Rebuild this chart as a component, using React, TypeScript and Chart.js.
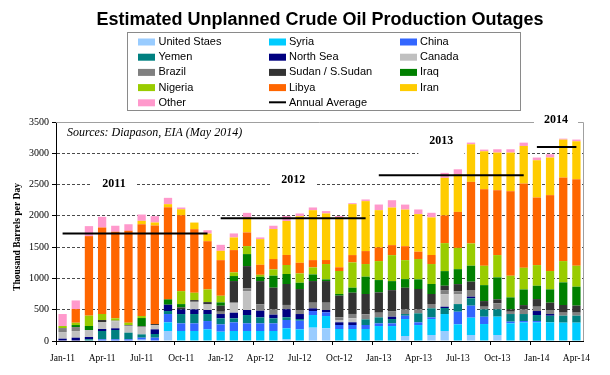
import React, { useEffect, useRef } from 'react';
import { Chart, registerables } from 'chart.js';

Chart.register(...registerables);

const MONTHS = [
  'Jan-11', 'Feb-11', 'Mar-11', 'Apr-11', 'May-11', 'Jun-11', 'Jul-11', 'Aug-11', 'Sep-11', 'Oct-11', 'Nov-11', 'Dec-11',
  'Jan-12', 'Feb-12', 'Mar-12', 'Apr-12', 'May-12', 'Jun-12', 'Jul-12', 'Aug-12', 'Sep-12', 'Oct-12', 'Nov-12', 'Dec-12',
  'Jan-13', 'Feb-13', 'Mar-13', 'Apr-13', 'May-13', 'Jun-13', 'Jul-13', 'Aug-13', 'Sep-13', 'Oct-13', 'Nov-13', 'Dec-13',
  'Jan-14', 'Feb-14', 'Mar-14', 'Apr-14',
];

const US = [0, 0, 0, 0, 0, 0, 21, 0, 160, 0, 0, 0, 0, 0, 0, 0, 0, 27, 0, 213, 202, 0, 0, 0, 0, 0, 80, 0, 96, 160, 0, 96, 0, 96, 0, 0, 0, 0, 0, 0];
const SYRIA = [0, 0, 0, 0, 0, 0, 0, 0, 138, 160, 160, 186, 149, 160, 160, 160, 160, 176, 186, 202, 197, 192, 192, 192, 239, 239, 271, 255, 255, 271, 266, 277, 271, 293, 282, 298, 298, 298, 293, 293];
const CHINA = [0, 0, 0, 27, 27, 27, 32, 53, 133, 122, 122, 133, 117, 138, 122, 122, 122, 133, 138, 64, 59, 64, 64, 64, 43, 43, 53, 43, 27, 0, 202, 192, 117, 0, 27, 21, 21, 0, 0, 0];
const YEMEN = [0, 0, 27, 133, 149, 106, 53, 59, 48, 149, 149, 112, 96, 64, 133, 96, 80, 43, 27, 0, 0, 0, 0, 90, 96, 69, 27, 144, 144, 96, 122, 117, 117, 117, 122, 112, 96, 106, 112, 112];
const NORTH_SEA = [37, 53, 37, 32, 27, 0, 0, 74, 101, 74, 74, 64, 69, 90, 80, 106, 59, 128, 80, 43, 37, 43, 43, 0, 0, 37, 0, 0, 0, 21, 0, 27, 0, 0, 0, 0, 64, 27, 0, 0];
const CANADA = [106, 106, 112, 112, 112, 106, 122, 69, 0, 0, 122, 90, 0, 160, 303, 0, 0, 0, 0, 0, 0, 37, 64, 0, 0, 0, 0, 0, 0, 197, 154, 0, 0, 0, 0, 0, 0, 0, 0, 0];
const BRAZIL = [64, 64, 0, 0, 11, 16, 0, 0, 0, 0, 0, 0, 37, 0, 43, 101, 85, 69, 64, 90, 117, 43, 69, 80, 74, 90, 74, 64, 69, 69, 53, 106, 43, 96, 37, 74, 69, 64, 48, 48];
const SUDAN = [0, 0, 0, 32, 0, 0, 11, 16, 0, 32, 27, 37, 96, 346, 356, 372, 346, 335, 335, 346, 346, 346, 340, 325, 325, 335, 346, 325, 160, 69, 112, 133, 90, 64, 37, 69, 122, 117, 122, 112];
const IRAQ = [0, 32, 64, 0, 0, 0, 128, 0, 85, 53, 0, 0, 53, 80, 192, 69, 192, 160, 101, 106, 27, 27, 80, 277, 197, 144, 138, 154, 160, 234, 239, 255, 255, 351, 192, 250, 213, 213, 362, 303];
const NIGERIA = [32, 37, 165, 96, 37, 37, 32, 0, 0, 207, 117, 202, 106, 59, 128, 32, 101, 144, 149, 112, 245, 367, 404, 202, 303, 415, 303, 325, 319, 447, 340, 356, 309, 356, 346, 346, 330, 293, 340, 335];
const LIBYA = [0, 218, 1271, 1383, 1383, 1468, 1468, 1575, 1474, 1213, 1016, 771, 569, 356, 218, 160, 165, 160, 170, 117, 64, 59, 117, 207, 218, 160, 223, 117, 144, 442, 575, 984, 1224, 1037, 1351, 1346, 1080, 1213, 1335, 1383];
const IRAN = [0, 0, 0, 0, 0, 0, 53, 48, 48, 96, 106, 122, 149, 202, 239, 410, 479, 543, 745, 798, 745, 798, 814, 798, 596, 601, 585, 601, 601, 601, 601, 601, 606, 601, 617, 601, 596, 601, 606, 606];
const OTHER = [192, 138, 160, 170, 96, 106, 101, 101, 101, 27, 0, 53, 96, 64, 74, 27, 53, 80, 43, 43, 37, 21, 16, 27, 90, 117, 80, 74, 74, 80, 80, 27, 27, 53, 53, 53, 43, 53, 16, 27];

const SERIES_NAMES = ['United Staes', 'Syria', 'China', 'Yemen', 'North Sea', 'Canada', 'Brazil', 'Sudan / S.Sudan', 'Iraq', 'Nigeria', 'Libya', 'Iran', 'Other'];
const SERIES_DATA = [US, SYRIA, CHINA, YEMEN, NORTH_SEA, CANADA, BRAZIL, SUDAN, IRAQ, NIGERIA, LIBYA, IRAN, OTHER];
const SERIES_COLORS = ['#99CCFF', '#00CCFF', '#3366FF', '#008080', '#000080', '#C0C0C0', '#808080', '#333333', '#008000', '#99CC00', '#FF6600', '#FFCC00', '#FF99CC'];

const AVG_YEARS = ['11', '12', '13', '14'];
const AVG_VALUES = [1719, 1960, 2649, 3101];

const YEAR_LABELS = ['2011', '2012', '2013', '2014'];

const TITLE = 'Estimated Unplanned Crude Oil Production Outages';
const SOURCE_NOTE = 'Sources: Diapason, EIA (May 2014)';
const Y_TITLE = 'Thousand Barrels per Day';

const SERIF = '"Liberation Serif", "Times New Roman", serif';
const SANS = '"Liberation Sans", Arial, sans-serif';

const yearOf = (i: number) => MONTHS[i].slice(-2);

// placement of the year labels, in (category index, value) units
const YEAR_LABEL_POS = [
  { x: 3.9, y: 2505, box: [44, 18], dy: 0 },
  { x: 17.5, y: 2580, box: [46, 18], dy: 0 },
  { x: 28.75, y: 3197, box: [46, 28], dy: 6 },
  { x: 37.45, y: 3527, box: [44, 17], dy: 0 },
];

const decorPlugin = {
  id: 'decor',
  beforeDraw(chart: any) {
    const { ctx, width, height } = chart;
    ctx.save();
    ctx.fillStyle = '#ffffff';
    ctx.fillRect(0, 0, width, height);
    ctx.restore();
  },
  beforeDatasetsDraw(chart: any) {
    const { ctx, chartArea: a, scales } = chart;
    ctx.save();
    ctx.strokeStyle = '#a0a0a0';
    ctx.lineWidth = 1;
    ctx.beginPath();
    ctx.moveTo(a.left, Math.round(a.top) + 0.5);
    ctx.lineTo(Math.round(a.right) + 0.5, Math.round(a.top) + 0.5);
    ctx.lineTo(Math.round(a.right) + 0.5, a.bottom);
    ctx.stroke();

    ctx.fillStyle = '#000';
    ctx.font = `italic 12px ${SERIF}`;
    ctx.textAlign = 'left';
    ctx.textBaseline = 'middle';
    ctx.fillText(SOURCE_NOTE, a.left + 11, a.top + 10.5);

    ctx.font = `bold 12px ${SERIF}`;
    ctx.textAlign = 'center';
    YEAR_LABELS.forEach((t, i) => {
      const p = YEAR_LABEL_POS[i];
      const px = scales.x.getPixelForValue(p.x);
      const py = scales.y.getPixelForValue(p.y);
      const [bw, bh] = p.box;
      ctx.fillStyle = '#fff';
      ctx.fillRect(px - bw / 2, py - bh / 2 + p.dy, bw, bh);
      ctx.fillStyle = '#000';
      ctx.fillText(t, px, py);
    });
    ctx.restore();
  },
  afterDraw(chart: any) {
    const { ctx, data } = chart;
    ctx.save();
    ctx.fillStyle = '#000';
    ctx.font = `bold 18px ${SANS}`;
    ctx.textAlign = 'center';
    ctx.textBaseline = 'middle';
    ctx.fillText(TITLE, 320, 20);

    ctx.save();
    ctx.translate(18, 237);
    ctx.rotate(-Math.PI / 2);
    ctx.font = `bold 9.5px ${SERIF}`;
    ctx.fillText(Y_TITLE, 0, 0);
    ctx.restore();

    const boxL = 127, boxR = 520, boxT = 32, boxB = 110;
    ctx.strokeStyle = '#8a8a8a';
    ctx.lineWidth = 1;
    ctx.strokeRect(boxL + 0.5, boxT + 0.5, boxR - boxL, boxB - boxT);
    const colSwatch = [138, 269, 400];
    const colText = [158.5, 289, 420];
    const rowY = [41.5, 56.7, 71.9, 87.1, 102.3];
    ctx.font = `11px ${SANS}`;
    ctx.textAlign = 'left';
    ctx.textBaseline = 'middle';
    data.datasets.forEach((ds: any, k: number) => {
      const c = k % 3;
      const r = Math.floor(k / 3);
      const y = rowY[r];
      if (ds.type === 'line') {
        ctx.strokeStyle = '#000';
        ctx.lineWidth = 2;
        ctx.beginPath();
        ctx.moveTo(colSwatch[c], y);
        ctx.lineTo(colSwatch[c] + 17, y);
        ctx.stroke();
      } else {
        ctx.fillStyle = ds.backgroundColor;
        ctx.fillRect(colSwatch[c], y - 3, 17, 7);
      }
      ctx.fillStyle = '#000';
      ctx.fillText(ds.label, colText[c], y + 0.5);
    });
    ctx.restore();
  },
};

export default function App() {
  const ref = useRef<HTMLCanvasElement>(null);

  useEffect(() => {
    if (!ref.current) return;
    const barSets = SERIES_NAMES.map((name, i) => ({
      type: 'bar' as const,
      label: name,
      data: SERIES_DATA[i],
      backgroundColor: SERIES_COLORS[i],
      borderWidth: 0,
      stack: 'outages',
      barPercentage: 0.63,
      categoryPercentage: 1,
    }));
    const avgData = MONTHS.map((m) => AVG_VALUES[AVG_YEARS.indexOf(m.slice(-2))]);
    const lineSet = {
      type: 'line' as const,
      label: 'Annual Average',
      data: avgData,
      borderColor: '#000',
      borderWidth: 2,
      pointRadius: 0,
      fill: false,
      stack: 'avg',
      order: -1,
      segment: {
        borderColor: (c: any) => (yearOf(c.p0DataIndex) !== yearOf(c.p1DataIndex) ? 'rgba(0,0,0,0)' : '#000'),
      },
    };

    const chart = new Chart(ref.current, {
      type: 'bar',
      data: { labels: MONTHS, datasets: [...barSets, lineSet] as any },
      options: {
        animation: false,
        responsive: false,
        maintainAspectRatio: false,
        layout: { padding: { top: 122, right: 27, left: 0, bottom: 0 } },
        plugins: {
          legend: { display: false },
          title: { display: false },
          tooltip: { enabled: false },
        },
        scales: {
          x: {
            stacked: true,
            offset: true,
            grid: {
              offset: true,
              drawOnChartArea: false,
              drawTicks: true,
              tickLength: 4,
              color: (c: any) => (c.index % 3 === 0 ? '#000' : 'rgba(0,0,0,0)'),
              tickColor: (c: any) => (c.index % 3 === 0 ? '#000' : 'rgba(0,0,0,0)'),
            },
            border: { display: true, color: '#000', width: 1 },
            ticks: {
              autoSkip: false,
              maxRotation: 0,
              minRotation: 0,
              padding: 8,
              color: '#000',
              font: { family: SERIF, size: 9.5 },
              callback: (_v: any, i: number) => (i % 3 === 0 ? MONTHS[i] : ''),
            },
            afterFit: (s: any) => {
              s.height = 34;
            },
          },
          y: {
            stacked: true,
            min: 0,
            max: 3500,
            ticks: {
              stepSize: 500,
              padding: 3,
              color: '#000',
              font: { family: SERIF, size: 10 },
              callback: (v: any) => String(v),
            },
            grid: {
              color: (c: any) => (c.tick && (c.tick.value === 0 || c.tick.value === 3500) ? 'rgba(0,0,0,0)' : '#4a4a4a'),
              tickColor: '#000',
              tickLength: 4,
              lineWidth: 1,
              tickBorderDash: [],
            },
            border: { display: true, color: '#000', width: 1, dash: [3, 2] },
            afterFit: (s: any) => {
              s.width = 56;
            },
          },
        },
      } as any,
      plugins: [decorPlugin],
    });
    return () => chart.destroy();
  }, []);

  return (
    <div style={{ position: 'absolute', left: 0, top: 0, width: 610, height: 375, background: '#fff' }}>
      <canvas ref={ref} width={610} height={375} style={{ display: 'block', width: 610, height: 375 }} />
    </div>
  );
}
